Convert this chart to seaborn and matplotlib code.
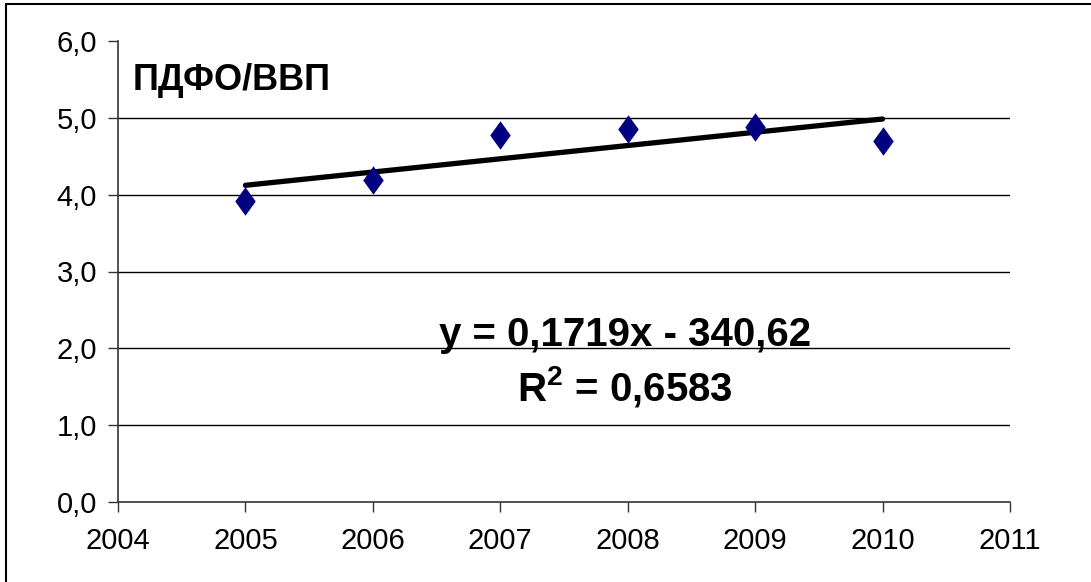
import matplotlib
matplotlib.use("Agg")
import matplotlib.pyplot as plt
import seaborn as sns
import pandas as pd
from matplotlib.ticker import FuncFormatter
from matplotlib.lines import Line2D

# ---- data ----
years = [2005, 2006, 2007, 2008, 2009, 2010]
pdfo_vvp = [3.92, 4.19, 4.78, 4.85, 4.88, 4.70]
x_ticks = [2004, 2005, 2006, 2007, 2008, 2009, 2010, 2011]
y_ticks = [0, 1, 2, 3, 4, 5, 6]
title_txt = "ПДФО/ВВП"
eq_txt = "y = 0,1719x - 340,62"
r2_txt = "R$^\\mathbf{2}$ = 0,6583"

df = pd.DataFrame({"year": years, "val": pdfo_vvp})

sns.set_style("white")
plt.rcParams["font.family"] = ["Liberation Sans", "DejaVu Sans"]
plt.rcParams["text.color"] = "black"
plt.rcParams["mathtext.fontset"] = "custom"
plt.rcParams["mathtext.bf"] = "Liberation Sans:bold"

fig = plt.figure(figsize=(10.91, 5.82), dpi=100)
ax = fig.add_axes([118 / 1091, 80 / 582, (1010 - 118) / 1091, (502 - 41) / 582])

# gridlines only between the axis and the top tick (as in the reference)
for yv in y_ticks[1:-1]:
    ax.axhline(yv, color="black", lw=1, zorder=0)

# trend line (linear fit) and points
sns.regplot(data=df, x="year", y="val", ax=ax, ci=None, scatter=False,
            line_kws={"color": "black", "lw": 3.8, "solid_capstyle": "round"})
diamond = [(0, 1), (0.72, 0), (0, -1), (-0.72, 0)]
sns.scatterplot(data=df, x="year", y="val", ax=ax, marker=diamond, s=420,
                color="#000080", edgecolor="#000080", linewidth=0, zorder=4)

ax.set_xlim(2004, 2011)
ax.set_ylim(0, 6)
ax.set_xticks(x_ticks)
ax.set_yticks(y_ticks)
ax.yaxis.set_major_formatter(FuncFormatter(lambda v, p: f"{v:.1f}".replace(".", ",")))
ax.set_xlabel("")
ax.set_ylabel("")
ax.grid(False)

for s in ["top", "right"]:
    ax.spines[s].set_visible(False)
for s in ["left", "bottom"]:
    ax.spines[s].set_color("#333333")
    ax.spines[s].set_linewidth(1.2)

ax.tick_params(axis="both", direction="out", length=7, width=1, color="#333333",
               labelsize=21, labelcolor="black")
ax.tick_params(axis="x", pad=11, bottom=True)
ax.tick_params(axis="y", pad=8, left=True)

ax.text(0.016, 0.915, title_txt, transform=ax.transAxes, fontsize=26,
        fontweight="bold", ha="left", va="center", color="black")
ax.text(2007.98, 2.18, eq_txt, fontsize=29, fontweight="bold", ha="center", va="center",
        color="black")
ax.text(2007.98, 1.5, r2_txt, fontsize=29, fontweight="bold", ha="center", va="center",
        color="black")

# outer chart frame (only top/left visible in reference)
fig.add_artist(Line2D([6 / 1091, 6 / 1091], [0, 1 - 4 / 582], color="black", lw=1.5,
                      transform=fig.transFigure))
fig.add_artist(Line2D([6 / 1091, 1], [1 - 4 / 582, 1 - 4 / 582], color="black", lw=1.5,
                      transform=fig.transFigure))

fig.savefig("out.png", dpi=100)
